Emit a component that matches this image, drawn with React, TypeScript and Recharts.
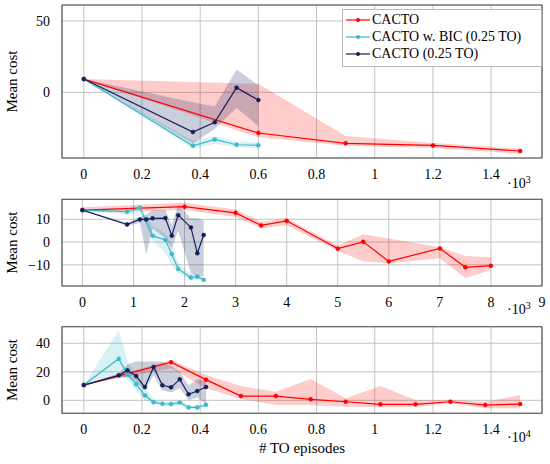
import React from "react";
import {
  ComposedChart,
  Line,
  Area,
  XAxis,
  YAxis,
  CartesianGrid,
  ReferenceArea,
  Legend,
} from "recharts";

const RED = "#ff0000";
const CYAN = "#3cb9c9";
const NAVY = "#141e5a";
const FONT = "Liberation Serif, Times New Roman, Times, serif";

// top panel, x in 10^3 TO episodes
const red1X = [0, 0.6, 0.9, 1.2, 1.5];
const red1Y = [9.3, -28.5, -35.7, -37.2, -41.1];
const red1Lo = [9.3, -31.5, -37.5, -39, -43];
const red1Hi = [9.3, 6, -30.5, -35.5, -39.5];

const cyan1X = [0, 0.375, 0.45, 0.525, 0.6];
const cyan1Y = [9.3, -37.4, -33, -36.7, -37.1];
const cyan1Lo = [9.3, -39.5, -36, -38.5, -39.3];
const cyan1Hi = [9.3, -34, -31, -34.5, -35];

const navy1X = [0, 0.375, 0.45, 0.525, 0.6];
const navy1Y = [9.3, -27.8, -21, 3.3, -5.4];
const navy1Lo = [9.3, -36, -25.5, -11, -23.5];
const navy1Hi = [9.3, -7, -10, 16, 5];

// middle panel, x in 10^3
const red2X = [0, 2, 3, 3.5, 4, 5, 5.5, 6, 7, 7.5, 8];
const red2Y = [14, 15.5, 12.8, 7.3, 9.3, -2.9, 0.1, -8.5, -2.8, -11.1, -10.4];
const red2Lo = [13, 14, 11.1, 6, 7.4, -3.8, -8.6, -9.3, -7.1, -15.9, -12.3];
const red2Hi = [15.3, 17.2, 14.3, 8.9, 10.3, -1.5, 3.4, 1.6, -2.3, -6.1, -6.7];

const cyan2X = [0, 0.875, 1.125, 1.375, 1.625, 1.75, 1.875, 2.125, 2.25, 2.375];
const cyan2Y = [14, 13.3, 15, 2.8, 0.9, -5.3, -11.8, -15.6, -15.2, -16.6];
const cyan2Lo = [14, 12, 13, 0.9, -5, -10, -13.7, -17, -16.5, -17.2];
const cyan2Hi = [14, 15, 16.5, 6.7, 3.8, -1.3, -9.3, -14, -14, -16];

const navy2X = [0, 0.875, 1.125, 1.25, 1.375, 1.625, 1.75, 1.875, 2.125, 2.25, 2.375];
const navy2Y = [14, 7.7, 9.9, 9.9, 10.4, 10.5, 2.8, 11.8, 6.4, -4.9, 3.1];
const navy2Lo = [14, 7, 8.5, -5.5, 6, 1.6, -2.8, 5, -13.7, -15.2, -15];
const navy2Hi = [14, 8.5, 11, 12, 14, 14, 7.4, 16.5, 10.4, 10.4, 9.6];

// bottom panel, x in 10^4
const red3X = [0, 0.3, 0.42, 0.54, 0.66, 0.78, 0.9, 1.02, 1.14, 1.26, 1.38, 1.5];
const red3Y = [10.7, 26.7, 14.5, 3, 3, 0.7, -1, -2.8, -2.8, -1, -3.3, -2.6];
const red3Lo = [10.7, 22.5, 8.4, 1, -3.3, -3.3, -4.5, -4.9, -4.5, -2, -5.6, -5.6];
const red3Hi = [10.7, 28.3, 17.8, 10, 6, 15, 1.4, 10, 0.2, 0.2, -1, 3.7];

const cyan3X = [0, 0.12, 0.15, 0.18, 0.21, 0.24, 0.27, 0.3, 0.33, 0.36, 0.39, 0.42];
const cyan3Y = [10.7, 29.2, 18.2, 11.2, 3.5, -1.4, -2.4, -2.6, -1.6, -5, -5, -3.1];
const cyan3Lo = [10.7, 17.5, 15, 6.6, 0, -2.8, -3.8, -4, -3.2, -6.3, -6.3, -4.6];
const cyan3Hi = [10.7, 49, 28, 16.3, 9, 0.7, -0.8, -1, 0, -3.5, -3.5, -1.5];

const navy3X = [0, 0.12, 0.15, 0.18, 0.21, 0.24, 0.27, 0.3, 0.33, 0.36, 0.39, 0.42];
const navy3Y = [10.7, 17.5, 21, 17, 9.3, 23.4, 10.5, 9.1, 14.7, 4.2, 6.5, 9.3];
const navy3Lo = [10.7, 16, 16.4, 12.8, 7, 17.5, 7, 5.4, 8.7, 0, 1.9, -2.4];
const navy3Hi = [10.7, 19, 25, 27.4, 27, 27.4, 26.9, 24, 19.9, 10.5, 14.7, 13.3];

const seriesNames = ["CACTO", "CACTO w. BIC (0.25 TO)", "CACTO (0.25 TO)"];
const seriesColors = [RED, CYAN, NAVY];

const ticks1X = [0, 0.2, 0.4, 0.6, 0.8, 1, 1.2, 1.4];
const ticks1Y = [0, 50];
const ticks2X = [0, 1, 2, 3, 4, 5, 6, 7, 8, 9];
const ticks2Y = [-10, 0, 10];
const ticks3X = [0, 0.2, 0.4, 0.6, 0.8, 1, 1.2, 1.4];
const ticks3Y = [0, 20, 40];

const rows = (xs: number[], ys: number[], lo: number[], hi: number[]) =>
  xs.map((x, i) => ({ x, y: ys[i], band: [lo[i], hi[i]] }));

const fmt = (v: number) => (v < 0 ? "\u2212" + Math.abs(v) : String(v));

// legend drawn in the series order used by the paper, not sorted by name
const LegendBox = () => (
  <div
    style={{
      boxSizing: "border-box",
      width: 200,
      background: "#fff",
      border: "1px solid #b8b8b8",
      padding: "1px 4px 3px 3px",
      fontFamily: FONT,
      fontSize: 14,
      color: "#000",
    }}
  >
    {seriesNames.map((name, i) => (
      <div key={name} style={{ display: "flex", alignItems: "center", height: 17.4 }}>
        <svg width={26} height={8} style={{ flex: "none" }}>
          <line x1={0} x2={24} y1={4} y2={4} stroke={seriesColors[i]} strokeWidth={1.2} />
          <circle cx={12} cy={4} r={2} fill={seriesColors[i]} />
        </svg>
        <span style={{ whiteSpace: "nowrap", fontFamily: FONT }}>{name}</span>
      </div>
    ))}
  </div>
);

type PanelProps = {
  top: number;
  height: number;
  marginTop: number;
  xAxisHeight: number;
  xDomain: [number, number];
  yDomain: [number, number];
  xTicks: number[];
  yTicks: number[];
  data: any[][];
  exp: string;
  expY: number;
  legend?: boolean;
  xTitle?: string;
};

const tickStyle = { fill: "#000", fontSize: 14, fontFamily: FONT };

const Panel = (p: PanelProps) => (
  <div style={{ position: "absolute", left: 0, top: p.top }}>
    <ComposedChart
      width={550}
      height={p.height}
      margin={{ top: p.marginTop, right: 8, bottom: 0, left: 0 }}
      style={{ fontFamily: FONT }}
    >
      <CartesianGrid stroke="#c4c4c4" strokeWidth={1} />
      <XAxis
        type="number"
        dataKey="x"
        domain={p.xDomain}
        ticks={p.xTicks}
        interval={0}
        allowDataOverflow
        axisLine={false}
        tickLine={false}
        tickSize={0}
        tickMargin={11}
        height={p.xAxisHeight}
        tick={tickStyle}
        tickFormatter={fmt}
        label={() => (
          <g>
            <text x={507} y={p.expY} fontSize={14} fill="#000" fontFamily={FONT}>
              {"\u00b710"}
              <tspan dy={-5} fontSize={10}>{p.exp}</tspan>
            </text>
            {p.xTitle ? (
              <text x={302} y={135} fontSize={15} fill="#000" textAnchor="middle" fontFamily={FONT}>
                {p.xTitle}
              </text>
            ) : null}
          </g>
        )}
      />
      <YAxis
        type="number"
        domain={p.yDomain}
        ticks={p.yTicks}
        interval={0}
        allowDataOverflow
        width={62}
        axisLine={false}
        tickLine={false}
        tickSize={0}
        tickMargin={12}
        tick={tickStyle}
        tickFormatter={fmt}
        label={(lp: any) => {
          const vb = lp.viewBox || {};
          const cy = (vb.y ?? 0) + (vb.height ?? 0) / 2;
          return (
            <text
              x={0}
              y={0}
              transform={`translate(12, ${cy}) rotate(-90)`}
              textAnchor="middle"
              dominantBaseline="central"
              fontSize={15}
              fill="#000"
              fontFamily={FONT}
            >
              Mean cost
            </text>
          );
        }}
      />
      {p.data.map((d, i) => (
        <Area
          key={"band" + i}
          data={d}
          dataKey="band"
          type="linear"
          stroke="none"
          fill={seriesColors[i]}
          fillOpacity={i === 2 ? 0.22 : 0.2}
          legendType="none"
          isAnimationActive={false}
          activeDot={false}
        />
      ))}
      {p.data.map((d, i) => (
        <Line
          key={"line" + i}
          data={d}
          dataKey="y"
          name={seriesNames[i]}
          type="linear"
          stroke={seriesColors[i]}
          strokeWidth={1.2}
          dot={{ r: 2, fill: seriesColors[i], stroke: seriesColors[i], strokeWidth: 0.5 }}
          activeDot={false}
          isAnimationActive={false}
        />
      ))}
      <ReferenceArea
        x1={p.xDomain[0]}
        x2={p.xDomain[1]}
        y1={p.yDomain[0]}
        y2={p.yDomain[1]}
        fill="none"
        stroke="#4a4a4a"
        strokeWidth={1.1}
        ifOverflow="visible"
      />
      {p.legend ? (
        <Legend
          layout="vertical"
          align="center"
          verticalAlign="middle"
          content={<LegendBox />}
          wrapperStyle={{ left: 342, top: 9, width: 200 }}
        />
      ) : null}
    </ComposedChart>
  </div>
);

export default function App() {
  const d1 = [
    rows(red1X, red1Y, red1Lo, red1Hi),
    rows(cyan1X, cyan1Y, cyan1Lo, cyan1Hi),
    rows(navy1X, navy1Y, navy1Lo, navy1Hi),
  ];
  const d2 = [
    rows(red2X, red2Y, red2Lo, red2Hi),
    rows(cyan2X, cyan2Y, cyan2Lo, cyan2Hi),
    rows(navy2X, navy2Y, navy2Lo, navy2Hi),
  ];
  const d3 = [
    rows(red3X, red3Y, red3Lo, red3Hi),
    rows(cyan3X, cyan3Y, cyan3Lo, cyan3Hi),
    rows(navy3X, navy3Y, navy3Lo, navy3Hi),
  ];
  return (
    <div
      style={{
        position: "absolute",
        left: 0,
        top: 0,
        width: 550,
        height: 464,
        background: "#fff",
        fontFamily: FONT,
      }}
    >
      <Panel
        top={0}
        height={195}
        marginTop={5}
        xAxisHeight={37}
        xDomain={[-0.075, 1.575]}
        yDomain={[-46, 61.2]}
        xTicks={ticks1X}
        yTicks={ticks1Y}
        data={d1}
        exp="3"
        expY={188}
        legend
      />
      <Panel
        top={190}
        height={126}
        marginTop={9.3}
        xAxisHeight={30}
        xDomain={[-0.4, 9]}
        yDomain={[-19.3, 18.75]}
        xTicks={ticks2X}
        yTicks={ticks2Y}
        data={d2}
        exp="3"
        expY={124}
      />
      <Panel
        top={318}
        height={146}
        marginTop={8.7}
        xAxisHeight={50.7}
        xDomain={[-0.075, 1.575]}
        yDomain={[-9.1, 51.6]}
        xTicks={ticks3X}
        yTicks={ticks3Y}
        data={d3}
        exp="4"
        expY={124}
        xTitle="# TO episodes"
      />
    </div>
  );
}
